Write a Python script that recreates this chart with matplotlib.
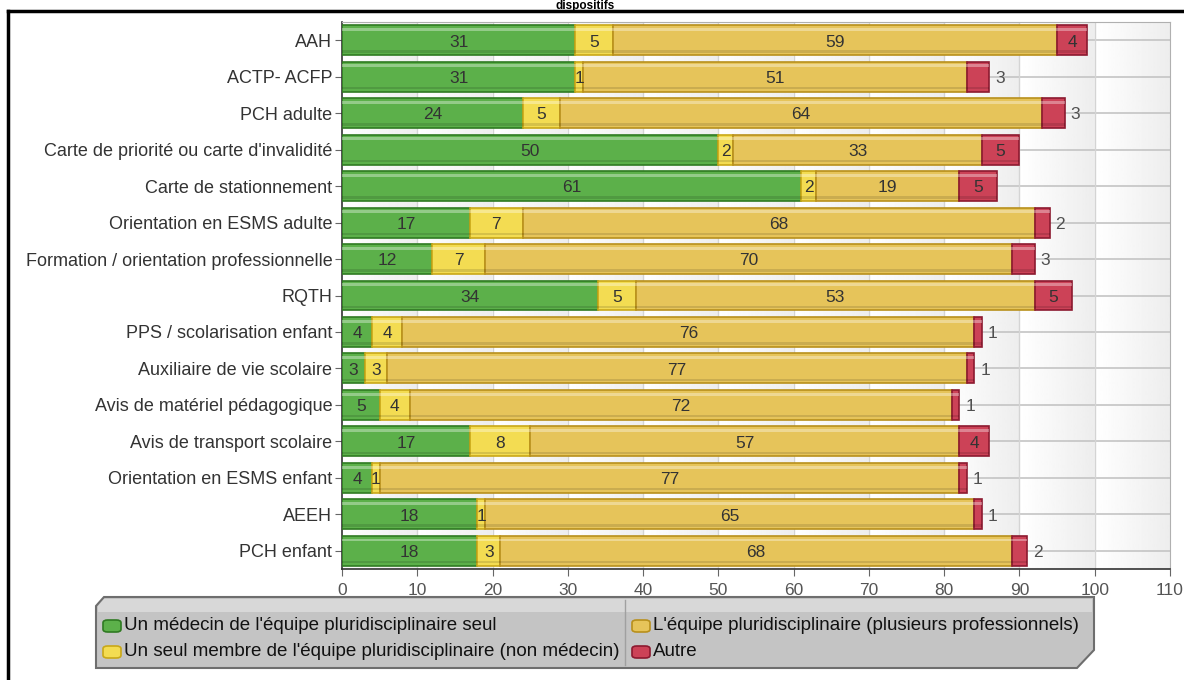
import numpy as np
import matplotlib.pyplot as plt
from matplotlib.patches import Polygon, FancyBboxPatch
from matplotlib.lines import Line2D

plt.rcParams['font.family'] = ['Liberation Sans', 'DejaVu Sans']

categories = ['AAH', 'ACTP- ACFP', 'PCH adulte',
              "Carte de priorité ou carte d'invalidité",
              'Carte de stationnement', 'Orientation en ESMS adulte',
              'Formation / orientation professionnelle', 'RQTH',
              'PPS / scolarisation enfant', 'Auxiliaire de vie scolaire',
              'Avis de matériel pédagogique', 'Avis de transport scolaire',
              'Orientation en ESMS enfant', 'AEEH', 'PCH enfant']

medecin = [31, 31, 24, 50, 61, 17, 12, 34, 4, 3, 5, 17, 4, 18, 18]
seul_membre = [5, 1, 5, 2, 2, 7, 7, 5, 4, 3, 4, 8, 1, 1, 3]
equipe = [59, 51, 64, 33, 19, 68, 70, 53, 76, 77, 72, 57, 77, 65, 68]
autre = [4, 3, 3, 5, 5, 2, 3, 5, 1, 1, 1, 4, 1, 1, 2]

series_names = ["Un médecin de l'équipe pluridisciplinaire seul",
                "Un seul membre de l'équipe pluridisciplinaire (non médecin)",
                "L'équipe pluridisciplinaire (plusieurs professionnels)",
                'Autre']

fills = ['#5cb04a', '#f3dc52', '#e6c45a', '#cc4257']
edges = ['#2f7a22', '#c9a818', '#b8901c', '#8c1a30']

fig = plt.figure(figsize=(11.84, 6.8), dpi=100)
ax = fig.add_axes([342/1184, 1 - 569/680, (1170-342)/1184, (569-22)/680])

# background: each 10-wide column fades from white to light grey
grad = np.tile(np.linspace(1.0, 0.93, 50), 11)[None, :]
ax.imshow(grad, extent=[0, 110, 14.5, -0.5], aspect='auto', cmap='gray',
          vmin=0, vmax=1, zorder=0, interpolation='bilinear')

y = np.arange(len(categories))
for yy in y:
    ax.axhline(yy, color='#c4c4c4', lw=1.2, zorder=1)
for xx in range(10, 110, 10):
    ax.axvline(xx, color='#d4d4d4', lw=1.0, zorder=1)

h = 0.82
left = np.zeros(len(categories))
for k, vals in enumerate([medecin, seul_membre, equipe, autre]):
    vals = np.array(vals, dtype=float)
    ax.barh(y, vals, left=left, height=h, color=fills[k], edgecolor=edges[k],
            linewidth=1.2, zorder=3)
    # glossy highlight along the top and darker band at the bottom
    ax.barh(y - h*0.36, vals, left=left, height=h*0.1, color='white',
            alpha=0.35, linewidth=0, zorder=4)
    ax.barh(y + h*0.38, vals, left=left, height=h*0.08, color='black',
            alpha=0.12, linewidth=0, zorder=4)
    for i, v in enumerate(vals):
        cx = left[i] + v / 2
        if k == 3 and v <= 3:
            ax.text(left[i] + v + 0.8, y[i] + 0.05, f'{int(v)}', ha='left',
                    va='center', fontsize=12.5, color='#505050', zorder=5)
        else:
            ax.text(cx, y[i] + 0.05, f'{int(v)}', ha='center', va='center',
                    fontsize=12.5, color='#333333', zorder=5)
    left += vals

ax.set_xlim(0, 110)
ax.set_ylim(14.5, -0.5)
ax.set_xticks(range(0, 111, 10))
ax.set_yticks(y)
ax.set_yticklabels(categories)
ax.tick_params(axis='y', length=5, color='#666666', labelsize=13,
               labelcolor='#333333', pad=2)
ax.tick_params(axis='x', length=5, color='#666666', labelsize=12.5,
               labelcolor='#555555', pad=5)
for s in ['top', 'right']:
    ax.spines[s].set_color('#b0b0b0')
ax.spines['left'].set_color('#333333')
ax.spines['bottom'].set_color('#333333')
ax.spines['left'].set_linewidth(1.2)
ax.spines['bottom'].set_linewidth(1.2)

# legend panel with bevelled corners
W, H = 1184, 680
def fx(px):
    return px / W
def fy(py):
    return 1 - py / H

box = [(104, 597), (1094, 597), (1094, 650), (1077, 668), (96, 668), (96, 606)]
panel = Polygon([(fx(a), fy(b)) for a, b in box], closed=True,
                facecolor='#c4c4c4', edgecolor='#6e6e6e', lw=1.5,
                transform=fig.transFigure, zorder=1)
fig.add_artist(panel)
shine = Polygon([(fx(a), fy(b)) for a, b in
                 [(104, 599), (1092, 599), (1092, 612), (98, 612), (98, 606)]],
                closed=True, facecolor='white', alpha=0.35, lw=0,
                transform=fig.transFigure, zorder=2)
fig.add_artist(shine)
fig.add_artist(Line2D([fx(625), fx(625)], [fy(600), fy(665)], color='#a0a0a0',
                      lw=1, transform=fig.transFigure, zorder=2))

entries = [(103, 626, 0), (103, 652, 1), (632, 626, 2), (632, 652, 3)]
for px, py, k in entries:
    sw = FancyBboxPatch((fx(px), fy(py + 6)), fx(18), 12 / H,
                        boxstyle='round,pad=0.0,rounding_size=0.004',
                        facecolor=fills[k], edgecolor=edges[k], lw=1.2,
                        transform=fig.transFigure, zorder=3)
    fig.add_artist(sw)
    fig.text(fx(px + 21), fy(py), series_names[k], ha='left', va='center',
             fontsize=13.5, color='#111111', zorder=4)

# outer frame and title
fig.add_artist(Line2D([fx(8), fx(1184)], [fy(11), fy(11)], color='black',
                      lw=2.5, transform=fig.transFigure, zorder=1))
fig.add_artist(Line2D([fx(8), fx(8)], [fy(11), fy(680)], color='black',
                      lw=2.5, transform=fig.transFigure, zorder=1))
fig.text(fx(585), fy(0.5), 'dispositifs', ha='center', va='top',
         fontsize=8.5, fontweight='bold', color='black', zorder=5)

fig.savefig('out.png', dpi=100)
